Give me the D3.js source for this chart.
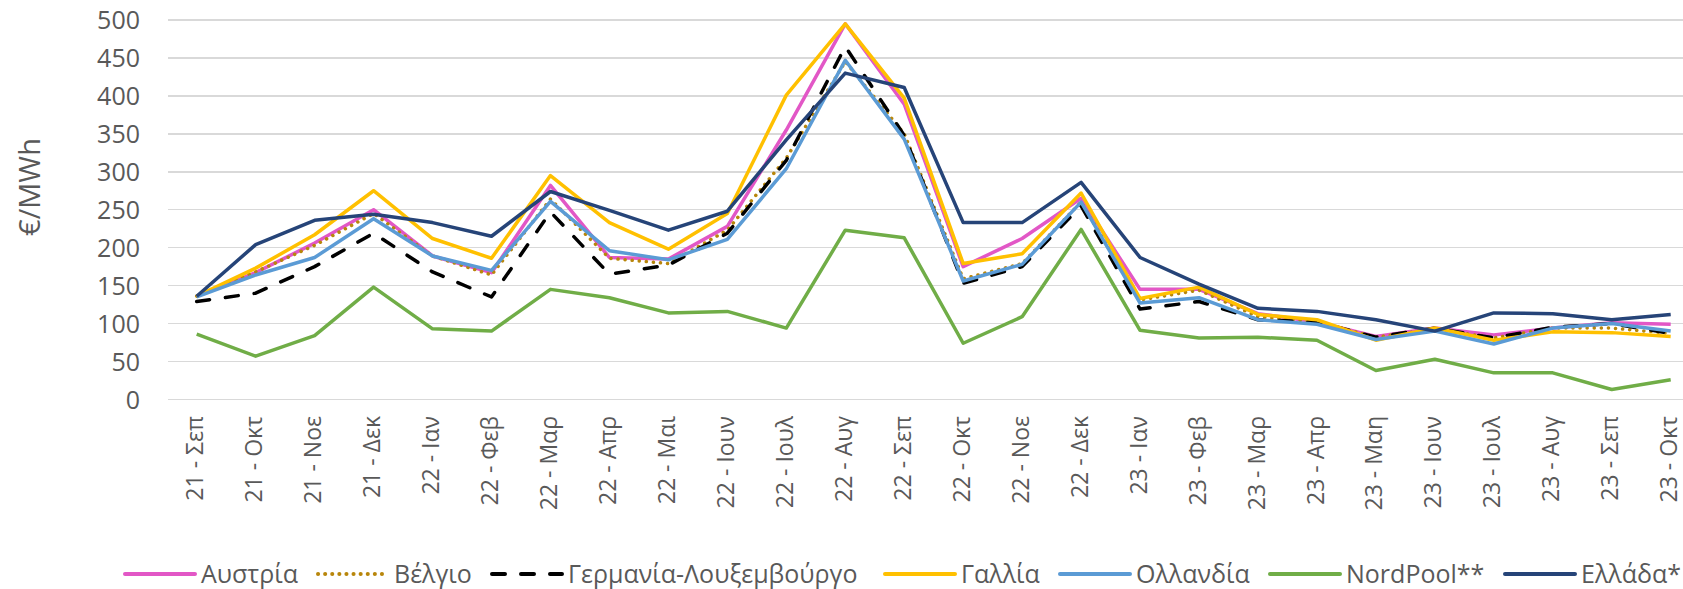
<!DOCTYPE html>
<html>
<head>
<meta charset="utf-8" />
<title>Τιμές ηλεκτρικής ενέργειας</title>
<script src="https://cdn.jsdelivr.net/npm/d3@7/dist/d3.min.js"></script>
<style>
	body { margin: 0; background: #fff; }
	#chart text { font-family: "Open Sans", sans-serif; fill: #595959; }
	.grid line { stroke: #D9D9D9; stroke-width: 1.5px; shape-rendering: crispEdges; }
	.series { fill: none; stroke-width: 3.5px; stroke-linejoin: round; }
</style>
</head>
<body>
<div id="chart"></div>
<script>
// categories (year - month)
var months = ["21 - Σεπ","21 - Οκτ","21 - Νοε","21 - Δεκ",
	"22 - Ιαν","22 - Φεβ","22 - Μαρ","22 - Απρ","22 - Μαι","22 - Ιουν","22 - Ιουλ","22 - Αυγ","22 - Σεπ","22 - Οκτ","22 - Νοε","22 - Δεκ",
	"23 - Ιαν","23 - Φεβ","23 - Μαρ","23 - Απρ","23 - Μαη","23 - Ιουν","23 - Ιουλ","23 - Αυγ","23 - Σεπ","23 - Οκτ"];

var austria  = [136,167,206,250,189,167,282,187,185,228,355,495,389,175,212,265,145,145,113,102,83,94,85,94,101,99];
var belgium  = [136,168,203,245,189,164,264,186,179,223,318,445,350,159,179,260,131,144,109,102,82,93,81,94,94,87];
var germany  = [129,140,175,219,168,135,247,165,177,219,315,465,348,153,175,255,119,129,105,102,82,94,81,95,100,87];
var france   = [136,173,217,275,212,186,295,233,198,245,401,495,397,179,192,272,133,148,112,105,78,94,78,89,88,83];
var holland  = [135,164,187,238,189,170,261,196,184,211,304,447,343,156,178,260,127,134,105,99,79,90,73,94,100,90];
var nordpool = [86,57,84,148,93,90,145,134,114,116,94,223,213,74,109,224,91,81,82,78,38,53,35,35,13,26];
var greece   = [136,204,236,244,233,215,274,249,223,248,342,430,411,233,233,286,187,152,120,116,105,90,114,113,105,112];

var yTicks = [0,50,100,150,200,250,300,350,400,450,500];

var series = [
	{name: "Αυστρία", values: austria, color: "#E257C6", dash: null},
	{name: "Βέλγιο", values: belgium, color: "#B8860B", dash: "0.1 7"},
	{name: "Γερμανία-Λουξεμβούργο", values: germany, color: "#000000", dash: "13 16"},
	{name: "Γαλλία", values: france, color: "#FFC000", dash: null},
	{name: "Ολλανδία", values: holland, color: "#5B9BD5", dash: null},
	{name: "NordPool**", values: nordpool, color: "#70AD47", dash: null},
	{name: "Ελλάδα*", values: greece, color: "#264478", dash: null}
];

// where each legend entry starts
var legendX = [125, 318, 492, 885, 1060, 1270, 1505];

var width = 1683, height = 589;

var svg = d3.select("#chart").append("svg")
	.attr("width", width)
	.attr("height", height);

svg.append("rect").attr("width", width).attr("height", height).attr("fill", "#fff");

var x = d3.scalePoint().domain(months).range([196.7, 1670.7]);
var y = d3.scaleLinear().domain([0, 500]).range([399.4, 20]);

// gridlines
svg.append("g")
	.attr("class", "grid")
	.selectAll("line")
	.data(yTicks)
  .enter().append("line")
	.attr("x1", 167.5)
	.attr("x2", width)
	.attr("y1", function(d) { return y(d); })
	.attr("y2", function(d) { return y(d); });

// y axis labels
var yAxis = svg.append("g")
	.attr("transform", "translate(140,0)")
	.call(d3.axisLeft(y).tickValues(yTicks).tickSize(0).tickPadding(0));
yAxis.select(".domain").remove();
yAxis.selectAll("text").style("font-size", "25px").attr("dy", "0.35em");

// x axis labels
var xAxis = svg.append("g")
	.attr("transform", "translate(0,416)")
	.call(d3.axisBottom(x).tickSize(0).tickPadding(0));
xAxis.select(".domain").remove();
xAxis.selectAll("text")
	.style("font-size", "23px")
	.style("text-anchor", "end")
	.attr("x", 0)
	.attr("y", -2)
	.attr("dy", "0.35em")
	.attr("transform", "rotate(-90)");

// y title
svg.append("text")
	.attr("transform", "translate(30,187) rotate(-90)")
	.attr("text-anchor", "middle")
	.attr("dy", "0.35em")
	.style("font-size", "29px")
	.text("€/MWh");

var line = d3.line()
	.x(function(d, i) { return x(months[i]); })
	.y(function(d) { return y(d); });

svg.selectAll(".series")
	.data(series)
  .enter().append("path")
	.attr("class", "series")
	.attr("d", function(d) { return line(d.values); })
	.attr("stroke", function(d) { return d.color; })
	.attr("stroke-dasharray", function(d) { return d.dash; })
	.attr("stroke-linecap", function(d) { return d.dash ? "round" : "butt"; });

// legend
var legend = svg.append("g").attr("transform", "translate(0,574)");
series.forEach(function(s, i) {
	var lx = legendX[i];
	legend.append("line")
		.attr("x1", lx).attr("x2", lx + 70)
		.attr("y1", 0).attr("y2", 0)
		.attr("stroke", s.color)
		.attr("stroke-width", 4)
		.attr("stroke-linecap", "round")
		.attr("stroke-dasharray", s.dash);
	legend.append("text")
		.attr("x", lx + 76)
		.attr("dy", "0.35em")
		.style("font-size", "25px")
		.text(s.name);
});
</script>
</body>
</html>
